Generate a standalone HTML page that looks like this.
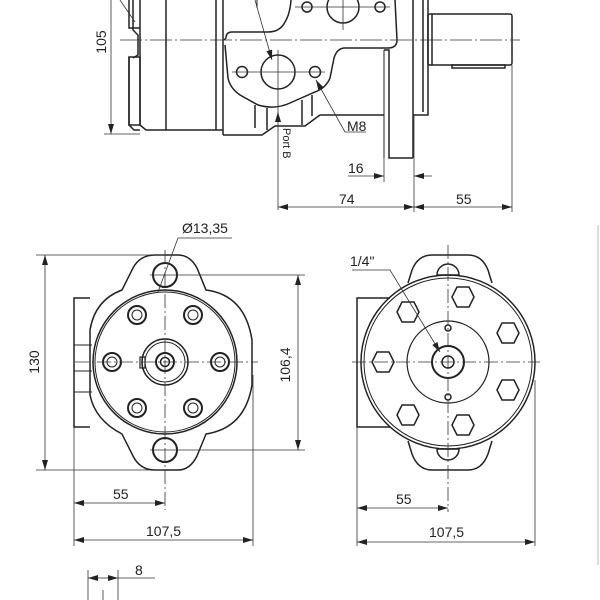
<!DOCTYPE html>
<html><head><meta charset="utf-8"><style>
html,body{margin:0;padding:0;background:#fff}
svg{display:block}
text{font-family:"Liberation Sans",sans-serif;font-size:14px;fill:#222}
</style></head><body>
<svg width="600" height="600" viewBox="0 0 600 600" xmlns="http://www.w3.org/2000/svg">
<defs>
<marker id="a" viewBox="0 0 10 6" refX="10" refY="3" markerWidth="10" markerHeight="6" orient="auto-start-reverse" markerUnits="userSpaceOnUse"><path d="M0,0 L10,3 L0,6 z" fill="#222"/></marker>
</defs>
<g fill="none" stroke="#222" stroke-width="1.5">
<path d="M129,0 V28 H140 M129,57 V125 L134,130 H140"/>
<rect x="129" y="57" width="11" height="68"/>
<path d="M133,0 V30 L138,35 V55 L133,58"/>
<path d="M140,0 V125 L146,130 H223"/>
<line x1="166" y1="0" x2="166" y2="130"/>
<line x1="216" y1="0" x2="216" y2="130"/>
<line x1="223" y1="0" x2="223" y2="135"/>
<path d="M224,40 L226,38 Q226,32 232,32 H268 Q280,32 285,22 Q290,14 291,0"/>
<path d="M395,0 L397,40 Q397,48 388,48 H345 Q337,48 334,58 L330,78 Q326,88 315,92 L290,103 Q275,110 258,105 L240,95 Q230,88 228,78 L225,45"/>
<path d="M223,135 H262 L275,126 H305 L320,115 H378 L384,115"/>
<path d="M255,105 V128 M267,108 V130 M302,100 V125 M312,95 V116"/>
<path d="M384,50 H389 V158 H413"/>
<line x1="384" y1="50" x2="384" y2="158" stroke-width="1"/>
<path d="M413,0 V158 M413,0 V115 H428 V0 M423,0 V112"/>
<rect x="428" y="14" width="84" height="51" rx="2"/>
<line x1="432" y1="14" x2="432" y2="65"/>
<rect x="452" y="65" width="53" height="3"/>
<circle cx="343" cy="7" r="16"/>
<circle cx="307" cy="7" r="5"/><circle cx="380" cy="7" r="5"/>
<circle cx="278" cy="72" r="17"/>
<circle cx="242" cy="72" r="5.5"/><circle cx="315" cy="72" r="5.5"/>
<path d="M257,0 V8" stroke-width="1"/>
</g>
<g fill="none" stroke="#333" stroke-width="0.8">
<path d="M120,40 H520" stroke-dasharray="22,3,2,3"/>
<path d="M232,72 H325 M278,50 V115 M295,7 H390 M343,-10 V30"/>
<line x1="111" y1="0" x2="111" y2="134" marker-end="url(#a)"/>
<line x1="104" y1="134" x2="140" y2="134"/>
<path d="M120,0 L135,22"/>
<path d="M255,0 L272,60" marker-end="url(#a)"/>
<path d="M366,132 H345 L316,80" marker-end="url(#a)"/>
<line x1="278" y1="210" x2="278" y2="112" marker-end="url(#a)"/>
<line x1="384" y1="158" x2="384" y2="182"/>
<line x1="414" y1="115" x2="414" y2="212"/>
<line x1="512" y1="65" x2="512" y2="212"/>
<line x1="348" y1="176" x2="384" y2="176" marker-end="url(#a)"/>
<line x1="432" y1="176" x2="414" y2="176" marker-end="url(#a)"/>
<line x1="278" y1="207" x2="414" y2="207" marker-start="url(#a)" marker-end="url(#a)"/>
<line x1="414" y1="207" x2="512" y2="207" marker-start="url(#a)" marker-end="url(#a)"/>
</g>
<text x="111" y="42" transform="rotate(-90 111 42)" text-anchor="middle" dy="-5">105</text>
<text x="347" y="131">M8</text>
<text x="283" y="128" transform="rotate(90 283 128)" style="font-size:11px">Port B</text>
<text x="348" y="173">16</text>
<text x="339" y="204">74</text>
<text x="456" y="204">55</text>

<g fill="none" stroke="#222" stroke-width="1.5">
<path d="M90,298 H74 V427 H90"/>
<path d="M74,345 H92 M74,371 H92 M74,392 H92" stroke-width="1"/>
<path d="M133,268 Q140,255 155,255 H178 Q190,255 197,268 L206,290 Q245,295 252,340 V385 Q245,428 206,434 L197,456 Q190,470 178,470 H155 Q140,470 133,456 L122,434 Q95,420 90,395 V330 Q95,300 122,290 Z"/>
<circle cx="165" cy="362" r="72"/>
<circle cx="165" cy="362" r="70" stroke-width="1"/>
<circle cx="165" cy="275" r="12" stroke-width="2"/>
<circle cx="165" cy="450" r="12" stroke-width="2"/>
<g stroke-width="2">
<circle cx="137" cy="315" r="9"/><circle cx="193" cy="315" r="9"/>
<circle cx="112" cy="362" r="9"/><circle cx="220" cy="362" r="9"/>
<circle cx="137" cy="408" r="9"/><circle cx="193" cy="408" r="9"/>
</g>
<g stroke-width="1">
<circle cx="137" cy="315" r="5"/><circle cx="193" cy="315" r="5"/>
<circle cx="112" cy="362" r="5"/><circle cx="220" cy="362" r="5"/>
<circle cx="137" cy="408" r="5"/><circle cx="193" cy="408" r="5"/>
</g>
<circle cx="165" cy="362" r="23"/>
<circle cx="165" cy="362" r="20" stroke-width="1"/>
<circle cx="165" cy="362" r="9" stroke-width="2"/>
<circle cx="165" cy="362" r="4.5"/>
<rect x="140" y="357" width="5" height="11" stroke-width="1.2"/>
</g>
<g fill="none" stroke="#333" stroke-width="0.8">
<path d="M165,250 V510 M75,362 H258" stroke-dasharray="14,3,2,3"/>
<line x1="36" y1="255" x2="165" y2="255"/>
<line x1="36" y1="470" x2="165" y2="470"/>
<line x1="45" y1="255" x2="45" y2="470" marker-start="url(#a)" marker-end="url(#a)"/>
<line x1="150" y1="275" x2="305" y2="275"/>
<line x1="150" y1="450" x2="305" y2="450"/>
<line x1="298" y1="275" x2="298" y2="450" marker-start="url(#a)" marker-end="url(#a)"/>
<path d="M232,238 H178 L158,292"/>
<line x1="74" y1="427" x2="74" y2="546"/>
<line x1="253" y1="375" x2="253" y2="546"/>
<line x1="74" y1="503" x2="165" y2="503" marker-start="url(#a)" marker-end="url(#a)"/>
<line x1="74" y1="540" x2="253" y2="540" marker-start="url(#a)" marker-end="url(#a)"/>
</g>
<text x="182" y="233">Ø13,35</text>
<text x="43" y="362" transform="rotate(-90 43 362)" text-anchor="middle" dy="-4">130</text>
<text x="294" y="365" transform="rotate(-90 294 365)" text-anchor="middle" dy="-4">106,4</text>
<text x="113" y="499">55</text>
<text x="146" y="536">107,5</text>

<g fill="none" stroke="#222" stroke-width="1.5">
<path d="M390,298 H357 V427 H390"/>
<path d="M408,283 L412,270 Q418,255 432,255 H468 Q482,255 488,270 L492,283"/>
<path d="M408,441 L412,454 Q418,470 432,470 H468 Q482,470 488,454 L492,441"/>
<circle cx="448" cy="362" r="87"/>
<circle cx="448" cy="362" r="84" stroke-width="1"/>
<circle cx="448" cy="362" r="41" stroke-width="1.2"/>
<circle cx="448" cy="362" r="16" stroke-width="2"/>
<circle cx="448" cy="362" r="6"/>
<circle cx="448" cy="328" r="3"/><circle cx="448" cy="397" r="3"/>
<path d="M437,275 A11,11 0 0 1 459,275 Z"/>
<path d="M437,449 A11,11 0 0 0 459,449 Z"/>
<g stroke-width="1.5">
<polygon points="397,312 402,302 414,302 419,312 414,322 402,322"/>
<polygon points="452,297 457,287 469,287 474,297 469,307 457,307"/>
<polygon points="497,333 502,323 514,323 519,333 514,343 502,343"/>
<polygon points="372,362 377,352 389,352 394,362 389,372 377,372"/>
<polygon points="497,390 502,380 514,380 519,390 514,400 502,400"/>
<polygon points="397,415 402,405 414,405 419,415 414,425 402,425"/>
<polygon points="452,425 457,415 469,415 474,425 469,435 457,435"/>
</g>
</g>
<g fill="none" stroke="#333" stroke-width="0.8">
<path d="M448,245 V512 M352,362 H540" stroke-dasharray="14,3,2,3"/>
<path d="M352,270 H390 L440,352" marker-end="url(#a)"/>
<line x1="357" y1="427" x2="357" y2="546"/>
<line x1="535" y1="380" x2="535" y2="546"/>
<line x1="357" y1="508" x2="448" y2="508" marker-start="url(#a)" marker-end="url(#a)"/>
<line x1="357" y1="542" x2="535" y2="542" marker-start="url(#a)" marker-end="url(#a)"/>
<line x1="598" y1="225" x2="598" y2="565" stroke="#ddd" stroke-width="2"/>
</g>
<text x="350" y="266">1/4"</text>
<text x="396" y="504">55</text>
<text x="429" y="537">107,5</text>

<g fill="none" stroke="#333" stroke-width="0.8">
<line x1="88" y1="570" x2="88" y2="600"/>
<line x1="118" y1="570" x2="118" y2="600"/>
<line x1="103" y1="590" x2="103" y2="600"/>
<line x1="88" y1="578" x2="103" y2="578" marker-start="url(#a)"/>
<line x1="103" y1="578" x2="118" y2="578" marker-end="url(#a)"/>
<line x1="118" y1="578" x2="155" y2="578"/>
</g>
<text x="135" y="575">8</text>
</svg>
</body></html>
